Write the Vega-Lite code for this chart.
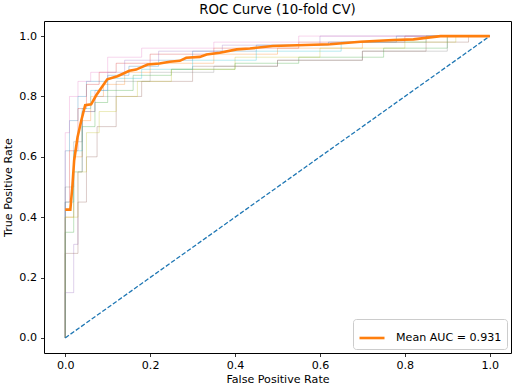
{
  "$schema": "https://vega.github.io/schema/vega-lite/v6.json",
  "width": 467,
  "height": 332,
  "autosize": {"type": "none"},
  "padding": {"left": 44, "top": 21, "right": 6, "bottom": 34},
  "config": {
    "font": "DejaVu Sans",
    "view": {"stroke": "black", "strokeWidth": 1},
    "axis": {
      "domain": false, "grid": false, "tickColor": "black", "tickSize": 3.5, "tickWidth": 0.8,
      "labelFontSize": 11.1, "labelColor": "black", "titleFontSize": 11.1, "titleColor": "black",
      "titleFontWeight": "normal", "labelPadding": 3, "titlePadding": 3
    }
  },
  "title": {"text": "ROC Curve (10-fold CV)", "fontSize": 13.3, "fontWeight": "normal", "color": "black", "offset": 5},
  "datasets": {
    "folds": [
      {"f":0,"i":0,"x":0,"y":0},{"f":0,"i":1,"x":0,"y":0.62},{"f":0,"i":2,"x":0.01,"y":0.72},{"f":0,"i":3,"x":0.03,"y":0.8},{"f":0,"i":4,"x":0.05,"y":0.85},{"f":0,"i":5,"x":0.1,"y":0.87},{"f":0,"i":6,"x":0.15,"y":0.9},{"f":0,"i":7,"x":0.22,"y":0.92},{"f":0,"i":8,"x":0.3,"y":0.95},{"f":0,"i":9,"x":0.45,"y":0.97},{"f":0,"i":10,"x":0.62,"y":0.98},{"f":0,"i":11,"x":0.78,"y":1.0},{"f":0,"i":12,"x":1,"y":1},
      {"f":1,"i":0,"x":0,"y":0},{"f":1,"i":1,"x":0,"y":0.4},{"f":1,"i":2,"x":0.02,"y":0.6},{"f":1,"i":3,"x":0.04,"y":0.72},{"f":1,"i":4,"x":0.06,"y":0.8},{"f":1,"i":5,"x":0.09,"y":0.84},{"f":1,"i":6,"x":0.14,"y":0.88},{"f":1,"i":7,"x":0.2,"y":0.91},{"f":1,"i":8,"x":0.35,"y":0.94},{"f":1,"i":9,"x":0.5,"y":0.96},{"f":1,"i":10,"x":0.7,"y":0.98},{"f":1,"i":11,"x":0.85,"y":1.0},{"f":1,"i":12,"x":1,"y":1},
      {"f":2,"i":0,"x":0,"y":0},{"f":2,"i":1,"x":0,"y":0.35},{"f":2,"i":2,"x":0.02,"y":0.55},{"f":2,"i":3,"x":0.04,"y":0.7},{"f":2,"i":4,"x":0.07,"y":0.78},{"f":2,"i":5,"x":0.1,"y":0.82},{"f":2,"i":6,"x":0.16,"y":0.87},{"f":2,"i":7,"x":0.25,"y":0.89},{"f":2,"i":8,"x":0.4,"y":0.91},{"f":2,"i":9,"x":0.55,"y":0.93},{"f":2,"i":10,"x":0.75,"y":0.96},{"f":2,"i":11,"x":0.9,"y":1.0},{"f":2,"i":12,"x":1,"y":1},
      {"f":3,"i":0,"x":0,"y":0},{"f":3,"i":1,"x":0,"y":0.45},{"f":3,"i":2,"x":0.01,"y":0.62},{"f":3,"i":3,"x":0.03,"y":0.76},{"f":3,"i":4,"x":0.05,"y":0.84},{"f":3,"i":5,"x":0.08,"y":0.88},{"f":3,"i":6,"x":0.12,"y":0.91},{"f":3,"i":7,"x":0.2,"y":0.94},{"f":3,"i":8,"x":0.35,"y":0.96},{"f":3,"i":9,"x":0.55,"y":0.98},{"f":3,"i":10,"x":0.8,"y":1.0},{"f":3,"i":11,"x":1,"y":1},
      {"f":4,"i":0,"x":0,"y":0},{"f":4,"i":1,"x":0,"y":0.15},{"f":4,"i":2,"x":0.02,"y":0.31},{"f":4,"i":3,"x":0.03,"y":0.55},{"f":4,"i":4,"x":0.04,"y":0.75},{"f":4,"i":5,"x":0.07,"y":0.82},{"f":4,"i":6,"x":0.1,"y":0.88},{"f":4,"i":7,"x":0.14,"y":0.92},{"f":4,"i":8,"x":0.22,"y":0.95},{"f":4,"i":9,"x":0.37,"y":0.97},{"f":4,"i":10,"x":0.6,"y":1.0},{"f":4,"i":11,"x":1,"y":1},
      {"f":5,"i":0,"x":0,"y":0},{"f":5,"i":1,"x":0,"y":0.28},{"f":5,"i":2,"x":0.03,"y":0.45},{"f":5,"i":3,"x":0.05,"y":0.6},{"f":5,"i":4,"x":0.075,"y":0.7},{"f":5,"i":5,"x":0.12,"y":0.8},{"f":5,"i":6,"x":0.18,"y":0.85},{"f":5,"i":7,"x":0.3,"y":0.9},{"f":5,"i":8,"x":0.5,"y":0.92},{"f":5,"i":9,"x":0.7,"y":0.95},{"f":5,"i":10,"x":0.85,"y":0.98},{"f":5,"i":11,"x":0.95,"y":1.0},{"f":5,"i":12,"x":1,"y":1},
      {"f":6,"i":0,"x":0,"y":0},{"f":6,"i":1,"x":0,"y":0.68},{"f":6,"i":2,"x":0.01,"y":0.8},{"f":6,"i":3,"x":0.03,"y":0.85},{"f":6,"i":4,"x":0.06,"y":0.88},{"f":6,"i":5,"x":0.1,"y":0.93},{"f":6,"i":6,"x":0.18,"y":0.96},{"f":6,"i":7,"x":0.35,"y":0.98},{"f":6,"i":8,"x":0.55,"y":1.0},{"f":6,"i":9,"x":1,"y":1},
      {"f":7,"i":0,"x":0,"y":0},{"f":7,"i":1,"x":0,"y":0.5},{"f":7,"i":2,"x":0.02,"y":0.65},{"f":7,"i":3,"x":0.04,"y":0.75},{"f":7,"i":4,"x":0.07,"y":0.8},{"f":7,"i":5,"x":0.12,"y":0.85},{"f":7,"i":6,"x":0.2,"y":0.88},{"f":7,"i":7,"x":0.35,"y":0.9},{"f":7,"i":8,"x":0.5,"y":0.92},{"f":7,"i":9,"x":0.7,"y":0.95},{"f":7,"i":10,"x":0.9,"y":1.0},{"f":7,"i":11,"x":1,"y":1},
      {"f":8,"i":0,"x":0,"y":0},{"f":8,"i":1,"x":0,"y":0.4},{"f":8,"i":2,"x":0.03,"y":0.55},{"f":8,"i":3,"x":0.05,"y":0.68},{"f":8,"i":4,"x":0.08,"y":0.75},{"f":8,"i":5,"x":0.12,"y":0.8},{"f":8,"i":6,"x":0.17,"y":0.85},{"f":8,"i":7,"x":0.25,"y":0.89},{"f":8,"i":8,"x":0.4,"y":0.93},{"f":8,"i":9,"x":0.6,"y":0.96},{"f":8,"i":10,"x":0.8,"y":0.98},{"f":8,"i":11,"x":0.92,"y":1.0},{"f":8,"i":12,"x":1,"y":1},
      {"f":9,"i":0,"x":0,"y":0},{"f":9,"i":1,"x":0,"y":0.45},{"f":9,"i":2,"x":0.02,"y":0.62},{"f":9,"i":3,"x":0.04,"y":0.76},{"f":9,"i":4,"x":0.06,"y":0.82},{"f":9,"i":5,"x":0.1,"y":0.86},{"f":9,"i":6,"x":0.18,"y":0.89},{"f":9,"i":7,"x":0.3,"y":0.92},{"f":9,"i":8,"x":0.45,"y":0.95},{"f":9,"i":9,"x":0.65,"y":0.98},{"f":9,"i":10,"x":0.85,"y":1.0},{"f":9,"i":11,"x":1,"y":1}
    ],
    "diag": [{"x":0,"y":0},{"x":1,"y":1}],
    "mean": [
      {"x":0,"y":0.425},{"x":0.012,"y":0.425},{"x":0.017,"y":0.505},{"x":0.021,"y":0.588},{"x":0.029,"y":0.665},{"x":0.038,"y":0.721},{"x":0.047,"y":0.771},{"x":0.061,"y":0.774},{"x":0.073,"y":0.804},{"x":0.099,"y":0.857},{"x":0.123,"y":0.867},{"x":0.151,"y":0.885},{"x":0.167,"y":0.889},{"x":0.194,"y":0.906},{"x":0.222,"y":0.909},{"x":0.246,"y":0.915},{"x":0.27,"y":0.918},{"x":0.285,"y":0.928},{"x":0.317,"y":0.931},{"x":0.333,"y":0.939},{"x":0.364,"y":0.945},{"x":0.404,"y":0.956},{"x":0.435,"y":0.959},{"x":0.489,"y":0.967},{"x":0.624,"y":0.973},{"x":0.695,"y":0.981},{"x":0.773,"y":0.987},{"x":0.82,"y":0.989},{"x":0.884,"y":1.0},{"x":1.0,"y":1.0}
    ]
  },
  "encoding": {
    "x": {"field": "x", "type": "quantitative", "scale": {"domain": [-0.05, 1.05], "nice": false, "zero": false},
      "axis": {"title": "False Positive Rate", "values": [0, 0.2, 0.4, 0.6, 0.8, 1.0], "format": ".1f"}},
    "y": {"field": "y", "type": "quantitative", "scale": {"domain": [-0.05, 1.05], "nice": false, "zero": false},
      "axis": {"title": "True Positive Rate", "values": [0, 0.2, 0.4, 0.6, 0.8, 1.0], "format": ".1f", "labelPadding": 4, "titlePadding": 5}}
  },
  "layer": [
    {
      "data": {"name": "folds"},
      "mark": {"type": "line", "interpolate": "step-after", "strokeWidth": 1, "opacity": 0.3, "clip": true},
      "encoding": {
        "color": {"field": "f", "type": "nominal", "legend": null,
          "scale": {"range": ["#1f77b4","#ff7f0e","#2ca02c","#d62728","#9467bd","#8c564b","#e377c2","#7f7f7f","#bcbd22","#17becf"]}},
        "order": {"field": "i", "type": "quantitative"}
      }
    },
    {
      "data": {"name": "diag"},
      "mark": {"type": "line", "color": "#1f77b4", "strokeWidth": 1.3, "strokeDash": [4.5, 2]},
      "encoding": {}
    },
    {
      "data": {"name": "mean"},
      "mark": {"type": "line", "strokeWidth": 2.6},
      "encoding": {
        "stroke": {"datum": "Mean AUC = 0.931", "type": "nominal",
          "scale": {"range": ["#ff7f0e"]},
          "legend": {"title": null, "orient": "bottom-right", "offset": 4, "symbolType": "stroke", "symbolSize": 625,
            "symbolStrokeWidth": 2.6, "labelFontSize": 11.1, "labelColor": "black", "strokeColor": "#cccccc",
            "fillColor": "white", "padding": 5, "cornerRadius": 3, "labelOffset": 10}}
      }
    }
  ],
  "resolve": {"scale": {"color": "independent"}}
}
